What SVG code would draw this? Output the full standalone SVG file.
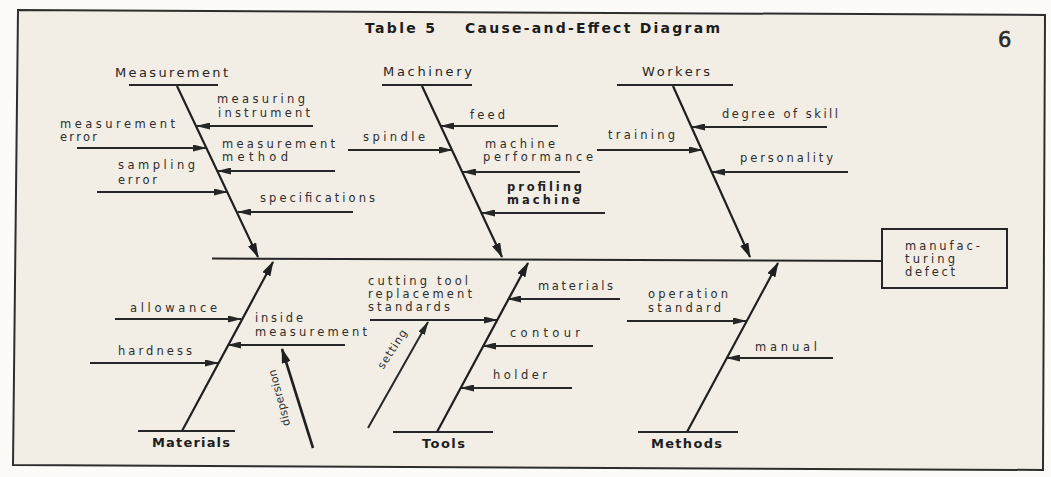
<svg xmlns="http://www.w3.org/2000/svg" width="1051" height="477" viewBox="0 0 1051 477">
  <style>
    text { font-family: "DejaVu Sans", "Liberation Sans", sans-serif; fill: #2d2d2d; }
    .title { font-size: 14px; font-weight: bold; fill: #1c1c1c; }
    .head { font-size: 13px; fill: #262626; }
    .headb { font-size: 13px; font-weight: bold; fill: #1e1e1e; }
    .lbl { font-size: 11.5px; }
    .lblb { font-size: 11.5px; font-weight: bold; fill: #222; }
    .note { font-size: 11px; }
    .bone { stroke: #1f1f1f; stroke-width: 2.2; fill: none; marker-end: url(#bigHead); }
    .sub { stroke: #272727; stroke-width: 2; fill: none; marker-end: url(#smallHead); }
    .thick { stroke: #1f1f1f; stroke-width: 2.6; fill: none; marker-end: url(#bigHead); }
    .rule { stroke: #262626; stroke-width: 2; fill: none; }
  </style>
  <defs>
    <marker id="bigHead" markerUnits="userSpaceOnUse" markerWidth="15" markerHeight="9" refX="14" refY="4.5" orient="auto">
      <path d="M0,0 L15,4.5 L0,9 z" fill="#1f1f1f"/>
    </marker>
    <marker id="smallHead" markerUnits="userSpaceOnUse" markerWidth="14" markerHeight="7" refX="13" refY="3.5" orient="auto">
      <path d="M0,0 L14,3.5 L0,7 z" fill="#262626"/>
    </marker>
  </defs>

  <!-- page and frame -->
  <rect x="0" y="0" width="1051" height="477" fill="#fcfbf8"/>
  <path d="M18,10 L1045,15 L1043,470 L13,465 Z" fill="#f2eee5" stroke="#2e2e2e" stroke-width="2"/>

  <!-- heading -->
  <g id="title">
    <text class="title" x="365" y="33" textLength="70" lengthAdjust="spacing">Table 5</text>
    <text class="title" x="465" y="33" textLength="255" lengthAdjust="spacing">Cause-and-Effect Diagram</text>
    <text x="998" y="47" font-size="21" fill="#2a2a2a" stroke="#2a2a2a" stroke-width="0.6">6</text>
  </g>

  <!-- spine, bones and cause arrows -->
  <g id="connectors">
    <line class="rule" x1="212" y1="258.5" x2="882" y2="261"/>
    <!-- upper bones -->
    <line class="bone" x1="177" y1="86" x2="258" y2="257"/>
    <line class="bone" x1="422" y1="86" x2="502" y2="257"/>
    <line class="bone" x1="673" y1="86" x2="750" y2="257"/>
    <!-- lower bones -->
    <line class="bone" x1="182" y1="431" x2="273" y2="262"/>
    <line class="bone" x1="437" y1="432" x2="528" y2="263"/>
    <line class="bone" x1="687" y1="432" x2="778" y2="263"/>
    <!-- Measurement causes -->
    <line class="sub" x1="313" y1="126" x2="197" y2="126"/>
    <line class="sub" x1="77" y1="148" x2="206" y2="148"/>
    <line class="sub" x1="335" y1="171" x2="218" y2="171"/>
    <line class="sub" x1="97" y1="192" x2="227" y2="192"/>
    <line class="sub" x1="353" y1="212" x2="238" y2="212"/>
    <!-- Machinery causes -->
    <line class="sub" x1="558" y1="126" x2="441" y2="126"/>
    <line class="sub" x1="348" y1="150" x2="452" y2="150"/>
    <line class="sub" x1="580" y1="172" x2="463" y2="172"/>
    <line class="sub" x1="605" y1="213" x2="482" y2="213"/>
    <!-- Workers causes -->
    <line class="sub" x1="827" y1="127" x2="692" y2="127"/>
    <line class="sub" x1="597" y1="150" x2="702" y2="150"/>
    <line class="sub" x1="848" y1="172" x2="712" y2="172"/>
    <!-- Materials causes -->
    <line class="sub" x1="115" y1="319" x2="241" y2="319"/>
    <line class="sub" x1="90" y1="363" x2="218" y2="363"/>
    <line class="sub" x1="345" y1="345" x2="228" y2="345"/>
    <line class="thick" x1="313" y1="448" x2="282" y2="349"/>
    <!-- Tools causes -->
    <line class="sub" x1="620" y1="299" x2="508" y2="299"/>
    <line class="sub" x1="370" y1="320" x2="497" y2="320"/>
    <line class="sub" x1="593" y1="346" x2="483" y2="346"/>
    <line class="sub" x1="572" y1="388" x2="461" y2="388"/>
    <line class="sub" x1="368" y1="428" x2="428" y2="322"/>
    <!-- Methods causes -->
    <line class="sub" x1="627" y1="321" x2="746" y2="321"/>
    <line class="sub" x1="833" y1="358" x2="727" y2="358"/>
  </g>

  <!-- effect box -->
  <g id="effect">
    <rect x="882" y="229" width="125" height="59" fill="none" stroke="#262626" stroke-width="2"/>
    <text class="lbl" x="905" y="250" textLength="75" lengthAdjust="spacing">manufac-</text>
    <text class="lbl" x="905" y="263" textLength="50" lengthAdjust="spacing">turing</text>
    <text class="lbl" x="905" y="276" textLength="50" lengthAdjust="spacing">defect</text>
  </g>

  <g id="measurement">
    <line class="rule" x1="129" y1="85" x2="218" y2="85"/>
    <text class="head" x="115" y="77" textLength="113" lengthAdjust="spacing">Measurement</text>
    <text class="lbl" x="217" y="103" textLength="88" lengthAdjust="spacing">measuring</text>
    <text class="lbl" x="218" y="117" textLength="92" lengthAdjust="spacing">instrument</text>
    <text class="lbl" x="60" y="128" textLength="115" lengthAdjust="spacing">measurement</text>
    <text class="lbl" x="60" y="141" textLength="37" lengthAdjust="spacing">error</text>
    <text class="lbl" x="222" y="148" textLength="113" lengthAdjust="spacing">measurement</text>
    <text class="lbl" x="222" y="161" textLength="66" lengthAdjust="spacing">method</text>
    <text class="lbl" x="118" y="169" textLength="77" lengthAdjust="spacing">sampling</text>
    <text class="lbl" x="118" y="184" textLength="39" lengthAdjust="spacing">error</text>
    <text class="lbl" x="260" y="202" textLength="115" lengthAdjust="spacing">specifications</text>
  </g>

  <g id="machinery">
    <line class="rule" x1="382" y1="85" x2="472" y2="85"/>
    <text class="head" x="383" y="76" textLength="89" lengthAdjust="spacing">Machinery</text>
    <text class="lbl" x="470" y="119" textLength="35" lengthAdjust="spacing">feed</text>
    <text class="lbl" x="363" y="141" textLength="62" lengthAdjust="spacing">spindle</text>
    <text class="lbl" x="485" y="148" textLength="70" lengthAdjust="spacing">machine</text>
    <text class="lbl" x="483" y="161" textLength="110" lengthAdjust="spacing">performance</text>
    <text class="lblb" x="507" y="191" textLength="75" lengthAdjust="spacing">profiling</text>
    <text class="lblb" x="507" y="204" textLength="73" lengthAdjust="spacing">machine</text>
  </g>

  <g id="workers">
    <line class="rule" x1="617" y1="85" x2="733" y2="85"/>
    <text class="head" x="642" y="76" textLength="68" lengthAdjust="spacing">Workers</text>
    <text class="lbl" x="722" y="118" textLength="116" lengthAdjust="spacing">degree of skill</text>
    <text class="lbl" x="608" y="139" textLength="67" lengthAdjust="spacing">training</text>
    <text class="lbl" x="740" y="162" textLength="93" lengthAdjust="spacing">personality</text>
  </g>

  <g id="materials">
    <line class="rule" x1="138" y1="431" x2="235" y2="431"/>
    <text class="headb" x="152" y="447" textLength="78" lengthAdjust="spacing">Materials</text>
    <text class="lbl" x="130" y="312" textLength="87" lengthAdjust="spacing">allowance</text>
    <text class="lbl" x="118" y="355" textLength="74" lengthAdjust="spacing">hardness</text>
    <text class="lbl" x="255" y="322" textLength="48" lengthAdjust="spacing">inside</text>
    <text class="lbl" x="255" y="336" textLength="112" lengthAdjust="spacing">measurement</text>
    <text class="note" transform="translate(279,398) rotate(-105)" x="-29" y="4" textLength="58" lengthAdjust="spacing">dispersion</text>
  </g>

  <g id="tools">
    <line class="rule" x1="393" y1="432" x2="493" y2="432"/>
    <text class="headb" x="422" y="448" textLength="43" lengthAdjust="spacing">Tools</text>
    <text class="lbl" x="368" y="285" textLength="100" lengthAdjust="spacing">cutting tool</text>
    <text class="lbl" x="368" y="298" textLength="104" lengthAdjust="spacing">replacement</text>
    <text class="lbl" x="368" y="311" textLength="82" lengthAdjust="spacing">standards</text>
    <text class="lbl" x="538" y="290" textLength="75" lengthAdjust="spacing">materials</text>
    <text class="lbl" x="510" y="337" textLength="70" lengthAdjust="spacing">contour</text>
    <text class="lbl" x="493" y="379" textLength="54" lengthAdjust="spacing">holder</text>
    <text class="note" transform="translate(392,349) rotate(-57)" x="-22" y="4" textLength="44" lengthAdjust="spacing">setting</text>
  </g>

  <g id="methods">
    <line class="rule" x1="638" y1="432" x2="738" y2="432"/>
    <text class="headb" x="651" y="448" textLength="71" lengthAdjust="spacing">Methods</text>
    <text class="lbl" x="648" y="298" textLength="80" lengthAdjust="spacing">operation</text>
    <text class="lbl" x="648" y="312" textLength="73" lengthAdjust="spacing">standard</text>
    <text class="lbl" x="755" y="351" textLength="62" lengthAdjust="spacing">manual</text>
  </g>
</svg>
